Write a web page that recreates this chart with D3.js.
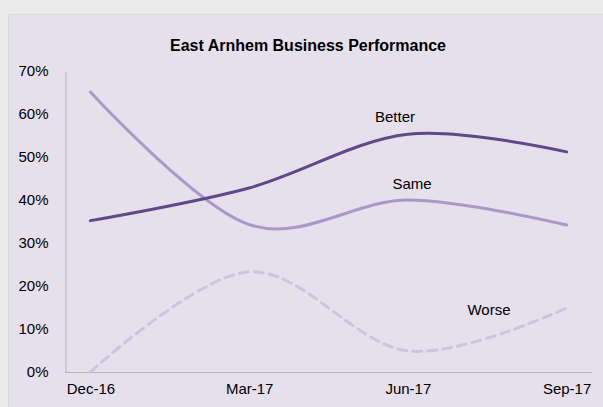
<!DOCTYPE html>
<html><head><meta charset="utf-8">
<script src="https://cdn.jsdelivr.net/npm/d3@7"></script>
<style>
html,body{margin:0;padding:0;background:#ebebeb;}
svg{display:block;font-family:"Liberation Sans",Arial,sans-serif;}
</style></head><body>
<svg id="c" width="603" height="407"></svg>
<script>
const categories = ["Dec-16","Mar-17","Jun-17","Sep-17"];
const better = [0.352, 0.428, 0.553, 0.512];
const same   = [0.651, 0.343, 0.400, 0.342];
const worse  = [0.000, 0.233, 0.049, 0.149];
const yTicks = [0,0.1,0.2,0.3,0.4,0.5,0.6,0.7];
const seriesNames = ["Better","Same","Worse"];

const svg = d3.select("#c");
svg.append("rect").attr("x",8.5).attr("y",14.5).attr("width",620).attr("height",420)
  .attr("fill","#e6dfec").attr("stroke","#d9d9d9").attr("stroke-width",1);

svg.append("text").attr("x",308).attr("y",51).attr("text-anchor","middle")
  .attr("font-weight","bold").attr("font-size",16).attr("fill","#000")
  .text("East Arnhem Business Performance");

const x = d3.scalePoint().domain(categories).range([65,592]).padding(0.16);
const y = d3.scaleLinear().domain([0,0.7]).range([372,71]);

const yAxis = d3.axisLeft(y).tickValues(yTicks).tickFormat(d3.format(".0%")).tickSize(0).tickPadding(17);
const gy = svg.append("g").attr("transform","translate(65.5,0)").call(yAxis);
gy.select(".domain").attr("stroke","#b8b3bd").attr("stroke-width",1);
gy.selectAll("text").attr("font-size",15).attr("fill","#000").attr("font-family","Liberation Sans, Arial, sans-serif");

const xAxis = d3.axisBottom(x).tickSize(0).tickPadding(11);
const gx = svg.append("g").attr("transform","translate(0,372.5)").call(xAxis);
gx.select(".domain").attr("stroke","#b8b3bd").attr("stroke-width",1).attr("d","M65,0H592");
gx.selectAll("text").attr("font-size",15).attr("fill","#000").attr("font-family","Liberation Sans, Arial, sans-serif");

const line = d3.line().x((d,i)=>x(categories[i])).y(d=>y(d)).curve(d3.curveCardinal.tension(0));

const series = [
  {name:"Better", values:better, color:"#5e4a8a", dash:null, lx:395, ly:117},
  {name:"Same", values:same, color:"#a899c8", dash:null, lx:412, ly:184},
  {name:"Worse", values:worse, color:"#cdc3df", dash:"9,6", lx:489, ly:310}
];
[series[2],series[1],series[0]].forEach(s=>{
  svg.append("path").datum(s.values).attr("d",line).attr("fill","none")
    .attr("stroke",s.color).attr("stroke-width",3).attr("stroke-linecap","round")
    .attr("stroke-dasharray",s.dash);
});
series.forEach(s=>{
  svg.append("text").attr("x",s.lx).attr("y",s.ly).attr("dy","0.35em").attr("text-anchor","middle")
    .attr("font-size",15).attr("fill","#000").text(s.name);
});
</script>
</body></html>
